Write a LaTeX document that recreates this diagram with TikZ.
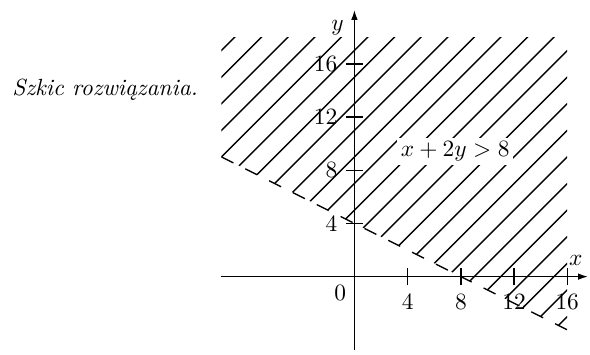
\documentclass[tikz,border=0pt]{standalone}
\usepackage{fontspec}
\usetikzlibrary{arrows.meta}
\begin{document}
\begin{tikzpicture}[x=0.2cm,y=0.2cm,line width=0.6pt]
\useasboundingbox (-26.65,-5.82) rectangle (17.71,20.80);
\coordinate (xleft) at (-10,0);
\coordinate (xright) at (17.56,0);
\coordinate (ybottom) at (0,-5.5);
\coordinate (ytop) at (0,20.05);
\coordinate (p) at (-10,9);
\coordinate (q) at (16,-4);

\begin{scope}
\clip (p) -- (q) -- (16,18) -- (-10,18) -- cycle;
\foreach \c in {-19,-17,...,27}
  \draw (-12,-12+\c) -- (18,18+\c);
\end{scope}
\draw[dash pattern=on 5.7pt off 5.7pt] (p) -- (q);

\draw[-{Latex[length=1.5mm,width=1mm]}] (xleft) -- (xright);
\draw[-{Latex[length=1.5mm,width=1mm]}] (ybottom) -- (ytop);

\foreach \t in {4,8,12,16} {
  \draw (\t,-0.65) -- (\t,0.65);
  \node[anchor=north] (xt\t) at (\t,-0.65) {\t};
  \draw (-0.65,\t) -- (0.65,\t);
  \node[anchor=east] (yt\t) at (-0.65,\t) {\t};
}
\node[anchor=north east] (zero) at (0,0) {0};
\node (xlab) at (16.65,1.25) {$x$};
\node (ylab) at (-1.28,18.7) {$y$};

\node[fill=white, inner sep=1.5pt, anchor=base west] (ineq) at (3.17,9.0) {$x+2y>8$};
\node[anchor=base west, inner sep=0pt] (caption) at (-25.77,13.65) {\textit{Szkic rozwiązania.}};
\end{tikzpicture}
\end{document}
